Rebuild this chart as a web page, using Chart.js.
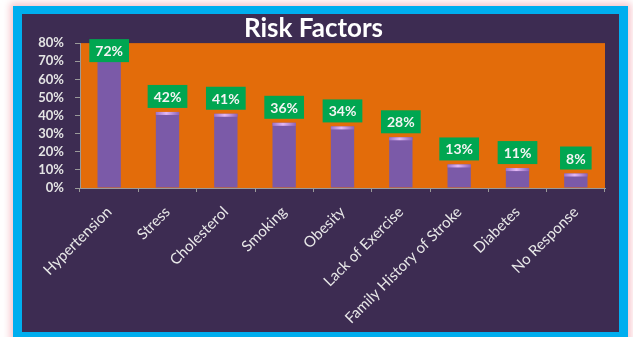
<!DOCTYPE html>
<html>
<head>
<meta charset="utf-8">
<script src="https://cdn.jsdelivr.net/npm/chart.js@4"></script>
<style>
  html, body { margin: 0; padding: 0; background: #ffffff; overflow: hidden; }
  .frame {
    position: absolute; left: 13px; top: 6px;
    width: 597px; height: 318px;
    border: 9px solid #00aeef; border-top-width: 8px;
    background: #3d2c52;
    box-shadow: 0 0 7px 3px rgba(240, 150, 160, 0.55);
  }
  canvas { display: block; }
</style>
</head>
<body>
<div class="frame"><canvas id="chart" width="597" height="318"></canvas></div>
<script>
const categories = ['Hypertension', 'Stress', 'Cholesterol', 'Smoking', 'Obesity',
  'Lack of Exercise', 'Family History of Stroke', 'Diabetes', 'No Response']
const percentages = [72, 42, 41, 36, 34, 28, 13, 11, 8]
const yTicks = [0, 10, 20, 30, 40, 50, 60, 70, 80]

const FONT = 'Lato, "Open Sans", sans-serif'

// orange plot background
const plotBg = {
  id: 'plotBg',
  beforeDraw(chart) {
    const { ctx, chartArea: a } = chart
    ctx.save()
    ctx.fillStyle = '#e36c0a'
    ctx.fillRect(a.left, a.top, a.right - a.left, a.bottom - a.top)
    ctx.restore()
  }
}

// light cap on top of each bar + green value boxes
const barLabels = {
  id: 'barLabels',
  afterDatasetsDraw(chart) {
    const { ctx, chartArea: a } = chart
    const meta = chart.getDatasetMeta(0)
    ctx.save()
    meta.data.forEach((bar, i) => {
      const w = bar.width
      const left = bar.x - w / 2
      const cap = ctx.createLinearGradient(left, 0, left + w, 0)
      cap.addColorStop(0, '#9c73c9')
      cap.addColorStop(0.45, '#e2b8f5')
      cap.addColorStop(1, '#8c63b8')
      ctx.fillStyle = cap
      ctx.fillRect(left, bar.y, w, 3)

      const text = percentages[i] + '%'
      ctx.font = 'bold 14px ' + FONT
      const tw = ctx.measureText(text).width
      const bw = tw + 12, bh = 23
      let top = bar.y - 4 - bh
      if (top < a.top - 4) top = a.top - 4
      ctx.fillStyle = '#00a651'
      ctx.fillRect(bar.x - bw / 2, top, bw, bh)
      ctx.fillStyle = '#f4f4f4'
      ctx.textAlign = 'center'
      ctx.textBaseline = 'middle'
      ctx.fillText(text, bar.x, top + bh / 2 + 1)
    })
    ctx.restore()
  }
}

const ctx = document.getElementById('chart').getContext('2d')
new Chart(ctx, {
  type: 'bar',
  data: {
    labels: categories,
    datasets: [{
      label: 'Risk Factors',
      data: percentages,
      barPercentage: 0.4,
      categoryPercentage: 1,
      borderWidth: 0,
      backgroundColor: (c) => {
        const el = c.element
        if (!el || !el.width) return '#7b5aa8'
        const left = el.x - el.width / 2
        const g = c.chart.ctx.createLinearGradient(left, 0, left + el.width, 0)
        g.addColorStop(0, '#4e3474')
        g.addColorStop(0.15, '#6e4f9c')
        g.addColorStop(0.45, '#8c6bbd')
        g.addColorStop(0.85, '#6a4c98')
        g.addColorStop(1, '#3f2860')
        return g
      }
    }]
  },
  plugins: [plotBg, barLabels],
  options: {
    responsive: false,
    animation: false,
    layout: { padding: { left: 0, right: 14, top: 0, bottom: 0 } },
    scales: {
      y: {
        min: 0,
        max: 80,
        afterBuildTicks: (s) => { s.ticks = yTicks.map(v => ({ value: v })) },
        afterFit: (s) => { s.width = 58 },
        border: { display: true, color: '#9a9a9a', width: 1 },
        grid: { display: true, drawOnChartArea: false, tickLength: 5, color: '#9a9a9a' },
        ticks: {
          autoSkip: false,
          padding: 11,
          color: '#e4e4e4',
          font: { family: FONT, size: 13, weight: 'bold' },
          callback: (v) => v + '%'
        }
      },
      x: {
        afterFit: (s) => { s.height = 144 },
        border: { display: true, color: '#9a9a9a', width: 1 },
        grid: { display: true, drawOnChartArea: false, tickLength: 4, color: '#9a9a9a', offset: true },
        ticks: {
          minRotation: 45,
          maxRotation: 45,
          autoSkip: false,
          padding: 11,
          labelOffset: 0,
          color: '#e8e8e8',
          font: { family: FONT, size: 15 }
        }
      }
    },
    plugins: {
      legend: { display: false },
      tooltip: { enabled: false },
      title: {
        display: true,
        text: 'Risk Factors',
        color: '#ffffff',
        font: { family: FONT, size: 26, weight: 'bold', lineHeight: 1.12 },
        padding: { top: 0, bottom: 0 }
      }
    }
  }
})
</script>
</body>
</html>
